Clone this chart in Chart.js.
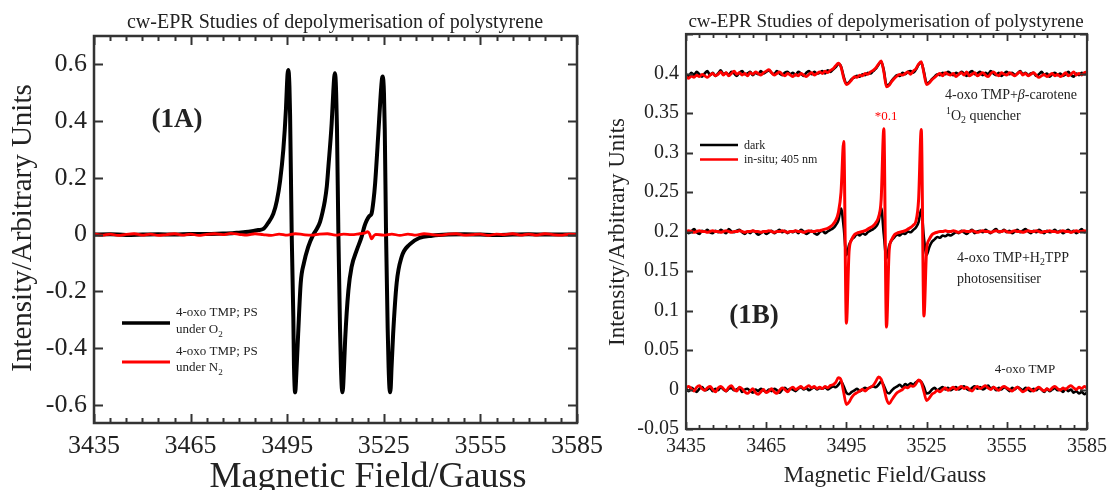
<!DOCTYPE html>
<html>
<head>
<meta charset="utf-8">
<script src="https://cdn.jsdelivr.net/npm/chart.js@4"></script>
<style>
  body { margin: 0; background: #fff; width: 1108px; height: 490px; overflow: hidden; position: relative; }
  #chartA { position: absolute; left: 0; top: 0; }
  #chartB { position: absolute; left: 604px; top: 0; }
</style>
</head>
<body>
<canvas id="chartA" width="620" height="490"></canvas>
<canvas id="chartB" width="520" height="490"></canvas>
<script>
// ---- data ----
var xTicks = [3435, 3465, 3495, 3525, 3555, 3585];
var xTickLabels = ["3435", "3465", "3495", "3525", "3555", "3585"];
var yTicksA = [-0.6, -0.4, -0.2, 0, 0.2, 0.4, 0.6];
var yTickLabelsA = ["-0.6", "-0.4", "-0.2", "0", "0.2", "0.4", "0.6"];
var yTicksB = [-0.05, 0, 0.05, 0.1, 0.15, 0.2, 0.25, 0.3, 0.35, 0.4];
var yTickLabelsB = ["-0.05", "0", "0.05", "0.1", "0.15", "0.2", "0.25", "0.3", "0.35", "0.4"];

// (1A) under O2
var fieldA_O2 = [3435, 3440, 3445, 3450, 3455, 3460, 3465, 3470, 3475, 3478, 3480, 3482, 3484, 3486, 3487.6, 3489,
  3490.7, 3491.8, 3492.8, 3493.8, 3494.6, 3494.9, 3495.1, 3495.3, 3495.5, 3495.7, 3495.9, 3496.4, 3496.9, 3497.1,
  3497.3, 3497.45, 3497.6, 3497.8, 3498.4, 3499.2, 3500.2, 3501.5, 3503.1, 3504.2, 3505.2, 3506.0, 3506.7, 3507.3,
  3507.8, 3508.8, 3509.3, 3509.6, 3509.8, 3510.0, 3510.2, 3510.45, 3510.9, 3511.4, 3511.7, 3511.95, 3512.15, 3512.35,
  3512.6, 3513.0, 3514.0, 3515.0, 3516.6, 3518.1, 3519.0, 3519.7, 3520.5, 3521.2, 3521.8, 3522.3, 3523.3, 3523.9,
  3524.2, 3524.45, 3524.65, 3524.85, 3525.05, 3525.3, 3525.7, 3526.2, 3526.5, 3526.75, 3526.95, 3527.15, 3527.4,
  3527.9, 3529.0, 3530.5, 3533.0, 3536.0, 3540, 3545, 3550, 3555, 3560, 3565, 3570, 3575, 3580, 3585];
var intensityA_O2 = [0, 0.001, -0.001, 0, 0.001, 0, 0.002, 0.002, 0.004, 0.005, 0.007, 0.009, 0.012, 0.016, 0.02, 0.04,
  0.074, 0.12, 0.19, 0.30, 0.44, 0.52, 0.565, 0.58, 0.57, 0.52, 0.42, 0.0, -0.29, -0.46,
  -0.535, -0.556, -0.545, -0.50, -0.35, -0.17, -0.10, -0.044, 0, 0.02, 0.045, 0.08, 0.12, 0.17,
  0.24, 0.39, 0.50, 0.555, 0.569, 0.555, 0.50, 0.38, 0.0, -0.33, -0.47, -0.54, -0.556, -0.54,
  -0.48, -0.37, -0.197, -0.114, -0.055, -0.008, 0.03, 0.05, 0.065, 0.074, 0.12, 0.18, 0.357, 0.47,
  0.52, 0.55, 0.557, 0.545, 0.50, 0.37, 0.0, -0.33, -0.47, -0.54, -0.556, -0.54, -0.47,
  -0.35, -0.17, -0.08, -0.035, -0.012, -0.004, 0, 0.001, 0, -0.001, 0, 0.001, 0, 0, 0];

// (1A) under N2
var fieldA_N2 = [3435, 3437.5, 3440, 3442.5, 3445, 3447.5, 3450, 3452.5, 3455, 3457.5, 3460, 3462.5, 3465, 3467.5,
  3470, 3472.5, 3475, 3477.5, 3480, 3482.5, 3485, 3487.5, 3490, 3492.5, 3495, 3497.5, 3500, 3502.5, 3505, 3507.5,
  3510, 3512.5, 3515, 3517.5, 3519, 3520, 3520.6, 3521.2, 3521.8, 3522.5, 3525, 3527.5, 3530, 3532.5, 3535, 3537.5,
  3540, 3542.5, 3545, 3547.5, 3550, 3552.5, 3555, 3557.5, 3560, 3562.5, 3565, 3567.5, 3570, 3572.5, 3575, 3577.5,
  3580, 3582.5, 3585];
var intensityA_N2 = [0.003, -0.002, 0.002, -0.003, 0.001, 0.003, -0.002, 0.002, -0.003, 0, 0.003, -0.002, 0.002, -0.003,
  0.001, 0.003, 0, 0.004, 0.001, -0.002, 0.003, 0, -0.003, 0.002, -0.002, 0.003, 0, -0.002, 0.002, 0.003,
  -0.002, 0.002, 0, 0.003, 0.005, 0.010, 0.002, -0.015, -0.006, 0.001, -0.002, 0.002, -0.003, 0.002, -0.002, 0.003,
  0, -0.002, 0.002, 0.003, -0.002, 0, 0.002, -0.003, 0.002, 0, 0.003, -0.002, 0.002, -0.002, 0.003, 0,
  -0.002, 0.002, 0];

// (1B) common field axis
var fieldB = [3435, 3436, 3437, 3438, 3439, 3440, 3441, 3442, 3443, 3444, 3445, 3446, 3447, 3448, 3449, 3450, 3451,
  3452, 3453, 3454, 3455, 3456, 3457, 3458, 3459, 3460, 3461, 3462, 3463, 3464, 3465, 3466, 3467, 3468, 3469, 3470,
  3471, 3472, 3473, 3474, 3475, 3476, 3477, 3478, 3479, 3480, 3481, 3482, 3483, 3484, 3485, 3486, 3487, 3488, 3489,
  3490, 3491, 3492, 3493, 3494, 3495, 3496, 3497, 3498, 3499, 3500, 3501, 3502, 3503, 3504, 3505, 3506, 3507, 3508,
  3509, 3510, 3511, 3512, 3513, 3514, 3515, 3516, 3517, 3518, 3519, 3520, 3521, 3522, 3523, 3524, 3525, 3526, 3527,
  3528, 3529, 3530, 3531, 3532, 3533, 3534, 3535, 3536, 3537, 3538, 3539, 3540, 3541, 3542, 3543, 3544, 3545, 3546,
  3547, 3548, 3549, 3550, 3551, 3552, 3553, 3554, 3555, 3556, 3557, 3558, 3559, 3560, 3561, 3562, 3563, 3564, 3565,
  3566, 3567, 3568, 3569, 3570, 3571, 3572, 3573, 3574, 3575, 3576, 3577, 3578, 3579, 3580, 3581, 3582, 3583, 3584,
  3585];

// 4-oxo TMP + beta-carotene (offset 0.4)
var caroteneDark = [0.399, 0.397, 0.401, 0.398, 0.402, 0.399, 0.396, 0.400, 0.403, 0.398,
  0.401, 0.397, 0.400, 0.404, 0.399, 0.401, 0.398, 0.402, 0.400, 0.397,
  0.401, 0.403, 0.399, 0.400, 0.402, 0.398, 0.401, 0.399, 0.403, 0.400,
  0.402, 0.404, 0.401, 0.399, 0.403, 0.400, 0.398, 0.401, 0.402, 0.399,
  0.401, 0.398, 0.402, 0.400, 0.397, 0.401, 0.403, 0.399, 0.402, 0.400,
  0.401, 0.403, 0.400, 0.404, 0.402, 0.405, 0.408, 0.412, 0.409, 0.396,
  0.387, 0.389, 0.393, 0.395, 0.397, 0.396, 0.399, 0.398, 0.401, 0.400,
  0.403, 0.406, 0.411, 0.415, 0.404, 0.385, 0.386, 0.391, 0.395, 0.398,
  0.397, 0.401, 0.399, 0.402, 0.403, 0.401, 0.405, 0.411, 0.414, 0.402,
  0.388, 0.389, 0.393, 0.396, 0.399, 0.398, 0.401, 0.399, 0.402, 0.400,
  0.398, 0.401, 0.399, 0.402, 0.400, 0.397, 0.401, 0.403, 0.399, 0.400,
  0.402, 0.398, 0.401, 0.399, 0.403, 0.400, 0.398, 0.401, 0.397, 0.400,
  0.402, 0.399, 0.401, 0.398, 0.400, 0.403, 0.399, 0.401, 0.398, 0.400,
  0.401, 0.397, 0.399, 0.402, 0.398, 0.400, 0.396, 0.399, 0.401, 0.398,
  0.400, 0.397, 0.399, 0.402, 0.398, 0.396, 0.400, 0.398, 0.401, 0.399, 0.400];
var caroteneLight = [0.396, 0.394, 0.397, 0.395, 0.398, 0.396, 0.399, 0.397, 0.395, 0.398,
  0.400, 0.397, 0.399, 0.402, 0.398, 0.401, 0.397, 0.400, 0.403, 0.399,
  0.401, 0.398, 0.400, 0.397, 0.401, 0.399, 0.402, 0.400, 0.398, 0.401,
  0.403, 0.405, 0.401, 0.398, 0.400, 0.402, 0.399, 0.397, 0.400, 0.398,
  0.396, 0.399, 0.397, 0.400, 0.398, 0.396, 0.399, 0.401, 0.398, 0.400,
  0.402, 0.400, 0.403, 0.401, 0.404, 0.406, 0.410, 0.413, 0.408, 0.394,
  0.386, 0.388, 0.392, 0.396, 0.395, 0.398, 0.397, 0.400, 0.399, 0.402,
  0.404, 0.407, 0.412, 0.416, 0.402, 0.383, 0.385, 0.390, 0.394, 0.397,
  0.399, 0.398, 0.400, 0.402, 0.399, 0.403, 0.406, 0.412, 0.415, 0.400,
  0.386, 0.388, 0.392, 0.395, 0.398, 0.400, 0.397, 0.401, 0.399, 0.398,
  0.400, 0.396, 0.399, 0.401, 0.398, 0.402, 0.397, 0.399, 0.401, 0.397,
  0.399, 0.401, 0.398, 0.396, 0.400, 0.402, 0.399, 0.397, 0.401, 0.399,
  0.398, 0.401, 0.399, 0.397, 0.400, 0.402, 0.398, 0.400, 0.397, 0.399,
  0.401, 0.398, 0.395, 0.397, 0.399, 0.396, 0.398, 0.400, 0.397, 0.399,
  0.396, 0.398, 0.401, 0.397, 0.399, 0.402, 0.398, 0.400, 0.398, 0.401, 0.402];

// 4-oxo TMP + H2TPP (offset 0.2), light trace scaled *0.1
var tppDark = [0.201, 0.198, 0.200, 0.203, 0.199, 0.197, 0.201, 0.200, 0.202, 0.199,
  0.198, 0.201, 0.199, 0.202, 0.200, 0.198, 0.203, 0.200, 0.199, 0.201,
  0.202, 0.199, 0.197, 0.200, 0.198, 0.201, 0.199, 0.196, 0.198, 0.200,
  0.197, 0.199, 0.201, 0.198, 0.200, 0.202, 0.199, 0.201, 0.198, 0.200,
  0.199, 0.201, 0.198, 0.202, 0.200, 0.197, 0.199, 0.201, 0.198, 0.196,
  0.199, 0.201, 0.198, 0.200, 0.202, 0.204, 0.208, 0.214, 0.229, 0.205,
  0.170, 0.183, 0.190, 0.193, 0.197, 0.195, 0.198, 0.196, 0.199, 0.201,
  0.203, 0.206, 0.212, 0.230, 0.196, 0.166, 0.182, 0.189, 0.193, 0.196,
  0.195, 0.198, 0.197, 0.200, 0.199, 0.202, 0.205, 0.212, 0.228, 0.192,
  0.170, 0.180, 0.187, 0.190, 0.193, 0.192, 0.195, 0.194, 0.196, 0.195,
  0.197, 0.199, 0.198, 0.201, 0.199, 0.197, 0.200, 0.202, 0.198, 0.200,
  0.201, 0.199, 0.202, 0.200, 0.198, 0.201, 0.203, 0.199, 0.200, 0.202,
  0.199, 0.201, 0.198, 0.200, 0.202, 0.199, 0.201, 0.203, 0.200, 0.198,
  0.201, 0.199, 0.202, 0.200, 0.198, 0.201, 0.199, 0.200, 0.202, 0.199,
  0.201, 0.198, 0.200, 0.202, 0.199, 0.201, 0.198, 0.200, 0.203, 0.199, 0.201];
var tppLight = [0.200, 0.201, 0.200, 0.199, 0.200, 0.201, 0.200, 0.200, 0.199, 0.200,
  0.201, 0.200, 0.200, 0.199, 0.200, 0.201, 0.200, 0.199, 0.200, 0.200,
  0.201, 0.200, 0.199, 0.200, 0.200, 0.201, 0.200, 0.200, 0.199, 0.200,
  0.200, 0.201, 0.200, 0.199, 0.200, 0.200, 0.201, 0.200, 0.199, 0.200,
  0.200, 0.201, 0.200, 0.200, 0.199, 0.200, 0.201, 0.200, 0.200, 0.201,
  0.201, 0.202, 0.203, 0.204, 0.206, 0.209, 0.214, 0.224, 0.250, 0.314,
  0.084, 0.175, 0.190, 0.196, 0.198, 0.199, 0.200, 0.201, 0.203, 0.205,
  0.207, 0.211, 0.218, 0.240, 0.330, 0.079, 0.176, 0.190, 0.196, 0.198,
  0.199, 0.200, 0.201, 0.203, 0.205, 0.208, 0.213, 0.240, 0.329, 0.093,
  0.177, 0.190, 0.196, 0.198, 0.199, 0.200, 0.200, 0.201, 0.200, 0.200,
  0.201, 0.200, 0.199, 0.200, 0.201, 0.200, 0.200, 0.201, 0.200, 0.199,
  0.200, 0.201, 0.200, 0.200, 0.199, 0.200, 0.201, 0.200, 0.200, 0.201,
  0.200, 0.199, 0.200, 0.201, 0.200, 0.200, 0.199, 0.200, 0.201, 0.200,
  0.200, 0.201, 0.200, 0.199, 0.200, 0.200, 0.201, 0.200, 0.200, 0.199,
  0.200, 0.201, 0.200, 0.200, 0.199, 0.200, 0.201, 0.200, 0.200, 0.201, 0.200];

// 4-oxo TMP alone (offset 0)
var tmpDark = [0.001, -0.002, 0.002, 0.000, -0.003, 0.001, 0.003, -0.001, 0.000, 0.002,
  -0.002, 0.001, -0.001, 0.003, 0.000, -0.002, 0.001, 0.002, -0.001, 0.000,
  0.002, -0.003, 0.000, 0.001, -0.002, -0.004, 0.000, -0.002, 0.001, -0.001,
  -0.003, 0.000, -0.002, 0.001, -0.001, -0.004, 0.000, 0.002, -0.001, 0.001,
  0.000, -0.002, 0.001, 0.003, 0.000, 0.002, -0.001, 0.001, 0.003, 0.000,
  0.002, 0.001, 0.003, 0.000, 0.002, 0.004, 0.003, 0.006, 0.010, 0.004,
  -0.004, -0.006, -0.003, -0.001, 0.001, -0.002, 0.000, 0.002, 0.001, 0.003,
  0.004, 0.003, 0.006, 0.010, 0.005, -0.003, -0.005, -0.001, 0.002, 0.004,
  0.006, 0.003, 0.007, 0.005, 0.008, 0.006, 0.009, 0.011, 0.010, 0.003,
  -0.005, -0.004, 0.000, 0.002, -0.001, 0.001, 0.003, 0.000, 0.002, -0.001,
  0.001, 0.003, 0.000, 0.002, 0.004, 0.001, -0.001, 0.002, 0.004, 0.001,
  0.003, 0.000, 0.002, 0.005, 0.001, 0.003, -0.001, 0.002, 0.000, 0.003,
  0.001, -0.002, 0.002, 0.000, 0.003, 0.001, -0.001, 0.002, 0.000, -0.002,
  0.001, -0.001, 0.002, 0.000, -0.003, 0.001, -0.002, 0.000, 0.002, -0.001,
  0.000, -0.003, 0.001, -0.002, 0.000, -0.004, -0.002, -0.005, -0.003, -0.006, -0.004];
var tmpLight = [0.002, 0.004, 0.001, -0.002, 0.003, 0.005, 0.001, -0.001, 0.002, 0.004,
  0.000, -0.003, 0.002, 0.004, 0.001, -0.002, 0.003, 0.005, 0.000, -0.002,
  0.003, 0.001, -0.003, -0.005, -0.002, 0.001, -0.004, -0.006, -0.003, 0.000,
  -0.004, -0.002, 0.001, -0.003, -0.005, -0.001, 0.002, 0.000, -0.003, 0.001,
  0.003, 0.000, 0.002, 0.004, 0.001, 0.003, 0.005, 0.002, 0.004, 0.001,
  0.003, 0.001, 0.004, 0.002, 0.005, 0.006, 0.009, 0.015, 0.012, -0.004,
  -0.019, -0.016, -0.010, -0.006, -0.004, -0.002, 0.000, -0.002, 0.001, 0.003,
  0.005, 0.010, 0.016, 0.013, 0.002, -0.012, -0.018, -0.013, -0.008, -0.004,
  -0.002, 0.000, 0.003, 0.002, 0.005, 0.004, 0.007, 0.012, 0.009, -0.003,
  -0.014, -0.011, -0.006, -0.004, -0.001, -0.003, 0.000, 0.002, -0.001, 0.001,
  0.003, 0.000, 0.002, 0.004, 0.001, 0.003, 0.000, -0.002, 0.002, 0.004,
  0.001, 0.003, 0.005, 0.002, 0.000, 0.003, 0.001, -0.001, 0.002, 0.004,
  0.002, 0.000, -0.002, 0.001, 0.003, 0.000, -0.003, -0.001, 0.002, 0.000,
  -0.002, 0.001, 0.003, 0.000, -0.002, 0.001, -0.001, 0.002, 0.004, 0.001,
  -0.001, 0.002, 0.000, 0.003, 0.005, 0.002, 0.000, 0.003, 0.001, 0.004, 0.002];

// ---- helpers ----
var SERIF = "'Liberation Serif', 'Times New Roman', serif";
var INK = "#222";

function pts(xs, ys) {
  return xs.map(function (x, i) { return { x: x, y: ys[i] }; });
}

// monotone interpolation keeps the trace through every point and avoids the
// pixel-bucketing fast path that leaves notches on steep segments
function line(label, xs, ys, color, width) {
  return { label: label, data: pts(xs, ys), borderColor: color, borderWidth: width,
    borderJoinStyle: "round", borderCapStyle: "round", cubicInterpolationMode: "monotone",
    pointRadius: 0, fill: false };
}

function txt(ctx, s, x, y, size, opts) {
  opts = opts || {};
  ctx.save();
  ctx.font = (opts.style || "") + " " + size + "px " + SERIF;
  ctx.fillStyle = opts.color || INK;
  ctx.textAlign = opts.align || "left";
  ctx.textBaseline = "middle";
  ctx.fillText(s, x, y);
  var w = ctx.measureText(s).width;
  ctx.restore();
  return w;
}

// draws a run of text pieces; piece = [text, kind] where kind is "", "sub", "sup", "i"
function runs(ctx, pieces, x, y, size, color) {
  var cx = x;
  pieces.forEach(function (p) {
    var small = p[1] === "sub" || p[1] === "sup";
    var dy = p[1] === "sub" ? size * 0.35 : (p[1] === "sup" ? -size * 0.35 : 0);
    cx += txt(ctx, p[0], cx, y + dy, small ? size * 0.7 : size, { color: color, style: p[1] === "i" ? "italic" : "" });
  });
}

// box and inward ticks on all four sides
function frame(cfg) {
  return {
    id: "frame",
    afterDraw: function (chart) {
      var ctx = chart.ctx, a = chart.chartArea, sx = chart.scales.x, sy = chart.scales.y;
      ctx.save();
      ctx.strokeStyle = "#333";
      ctx.lineWidth = cfg.tickWidth;
      ctx.beginPath();
      for (var f = 3435; f <= 3585; f += 5) {
        var px = Math.round(sx.getPixelForValue(f)) + 0.5;
        var len = (f - 3435) % 30 === 0 ? cfg.major : cfg.minor;
        ctx.moveTo(px, a.bottom); ctx.lineTo(px, a.bottom - len);
        ctx.moveTo(px, a.top); ctx.lineTo(px, a.top + len);
      }
      cfg.yTicks.forEach(function (v) {
        var py = Math.round(sy.getPixelForValue(v)) + 0.5;
        ctx.moveTo(a.left, py); ctx.lineTo(a.left + cfg.major, py);
        ctx.moveTo(a.right, py); ctx.lineTo(a.right - cfg.major, py);
      });
      ctx.stroke();
      ctx.lineWidth = cfg.boxWidth;
      ctx.strokeRect(a.left, a.top, a.right - a.left, a.bottom - a.top);
      ctx.restore();
      cfg.extra(chart, ctx);
    }
  };
}

function scalesFor(yMin, yMax, yTicks, yLabels, fontSize, yWidth, xHeight, pad) {
  return {
    x: {
      type: "linear", min: 3435, max: 3585,
      afterBuildTicks: function (s) { s.ticks = xTicks.map(function (v) { return { value: v }; }); },
      afterFit: function (s) { s.height = xHeight; },
      grid: { display: false, drawTicks: false }, border: { display: false },
      ticks: { autoSkip: false, maxRotation: 0, padding: pad, color: INK,
        font: { family: SERIF, size: fontSize },
        callback: function (v, i) { return xTickLabels[i]; } }
    },
    y: {
      min: yMin, max: yMax,
      afterBuildTicks: function (s) { s.ticks = yTicks.map(function (v) { return { value: v }; }); },
      afterFit: function (s) { s.width = yWidth; },
      grid: { display: false, drawTicks: false }, border: { display: false },
      ticks: { autoSkip: false, padding: 7, color: INK,
        font: { family: SERIF, size: fontSize },
        callback: function (v, i) { return yLabels[i]; } }
    }
  };
}

// ---- panel 1A ----
new Chart(document.getElementById("chartA"), {
  type: "line",
  data: {
    datasets: [
      line("4-oxo TMP; PS under N2", fieldA_N2, intensityA_N2, "#ff0000", 2.8),
      line("4-oxo TMP; PS under O2", fieldA_O2, intensityA_O2, "#000000", 4)
    ]
  },
  options: {
    responsive: false, animation: false, parsing: false,
    layout: { padding: { left: 0, top: 36, right: 620 - 577, bottom: 0 } },
    plugins: { legend: { display: false }, tooltip: { enabled: false } },
    scales: scalesFor(-0.664, 0.7, yTicksA, yTickLabelsA, 26, 94, 67, 8)
  },
  plugins: [frame({
    major: 9, minor: 5, tickWidth: 2, boxWidth: 2.5, yTicks: yTicksA,
    extra: function (chart, ctx) {
      txt(ctx, "cw-EPR Studies of depolymerisation of polystyrene", 335, 23, 20, { align: "center" });
      txt(ctx, "Magnetic Field/Gauss", 368, 478, 36, { align: "center" });
      ctx.save();
      ctx.translate(23, 228);
      ctx.rotate(-Math.PI / 2);
      txt(ctx, "Intensity/Arbitrary Units", 0, 0, 29, { align: "center" });
      ctx.restore();
      txt(ctx, "(1A)", 177, 120, 27, { align: "center", style: "bold" });
      // legend
      ctx.save();
      ctx.lineWidth = 3.5; ctx.strokeStyle = "#000";
      ctx.beginPath(); ctx.moveTo(122, 323); ctx.lineTo(170, 323); ctx.stroke();
      ctx.strokeStyle = "#ff0000"; ctx.lineWidth = 3;
      ctx.beginPath(); ctx.moveTo(122, 362); ctx.lineTo(170, 362); ctx.stroke();
      ctx.restore();
      txt(ctx, "4-oxo TMP; PS", 176, 313, 13);
      runs(ctx, [["under O", ""], ["2", "sub"]], 176, 330, 13);
      txt(ctx, "4-oxo TMP; PS", 176, 352, 13);
      runs(ctx, [["under N", ""], ["2", "sub"]], 176, 368, 13);
    }
  })]
});

// ---- panel 1B ----
var OX = 604; // canvas offset of panel B
new Chart(document.getElementById("chartB"), {
  type: "line",
  data: {
    datasets: [
      line("in-situ; 405 nm (beta-carotene)", fieldB, caroteneLight, "#ff0000", 2.8),
      line("in-situ; 405 nm (H2TPP)", fieldB, tppLight, "#ff0000", 3),
      line("in-situ; 405 nm", fieldB, tmpLight, "#ff0000", 2.8),
      line("dark (beta-carotene)", fieldB, caroteneDark, "#000000", 2.6),
      line("dark (H2TPP)", fieldB, tppDark, "#000000", 2.6),
      line("dark", fieldB, tmpDark, "#000000", 2.6)
    ]
  },
  options: {
    responsive: false, animation: false, parsing: false,
    layout: { padding: { left: 0, top: 34, right: 520 - (1087 - OX), bottom: 0 } },
    plugins: { legend: { display: false }, tooltip: { enabled: false } },
    scales: scalesFor(-0.05, 0.45, yTicksB, yTickLabelsB, 20, 686 - OX, 490 - 429, 6)
  },
  plugins: [frame({
    major: 7, minor: 4, tickWidth: 1.8, boxWidth: 2.2, yTicks: yTicksB.concat([0.45]),
    extra: function (chart, ctx) {
      txt(ctx, "cw-EPR Studies of depolymerisation of polystyrene", 886 - OX, 22, 19, { align: "center" });
      txt(ctx, "Magnetic Field/Gauss", 885 - OX, 476, 23, { align: "center" });
      ctx.save();
      ctx.translate(618 - OX, 232);
      ctx.rotate(-Math.PI / 2);
      txt(ctx, "Intensity/Arbitrary Units", 0, 0, 23, { align: "center" });
      ctx.restore();
      txt(ctx, "(1B)", 754 - OX, 316, 27, { align: "center", style: "bold" });
      // legend
      ctx.save();
      ctx.lineWidth = 2.5; ctx.strokeStyle = "#000";
      ctx.beginPath(); ctx.moveTo(700 - OX, 145); ctx.lineTo(738 - OX, 145); ctx.stroke();
      ctx.strokeStyle = "#ff0000";
      ctx.beginPath(); ctx.moveTo(700 - OX, 159.5); ctx.lineTo(738 - OX, 159.5); ctx.stroke();
      ctx.restore();
      txt(ctx, "dark", 744 - OX, 146, 12);
      txt(ctx, "in-situ; 405 nm", 744 - OX, 160, 12);
      // annotations
      runs(ctx, [["4-oxo TMP+", ""], ["\u03b2", "i"], ["-carotene", ""]], 945 - OX, 95, 14);
      runs(ctx, [["1", "sup"], ["O", ""], ["2", "sub"], [" quencher", ""]], 946 - OX, 116, 14);
      txt(ctx, "*0.1", 886 - OX, 117, 13, { align: "center", color: "#ff0000" });
      runs(ctx, [["4-oxo TMP+H", ""], ["2", "sub"], ["TPP", ""]], 957 - OX, 258, 14);
      txt(ctx, "photosensitiser", 957 - OX, 279, 14);
      txt(ctx, "4-oxo TMP", 1025 - OX, 370, 13, { align: "center" });
    }
  })]
});
</script>
</body>
</html>
